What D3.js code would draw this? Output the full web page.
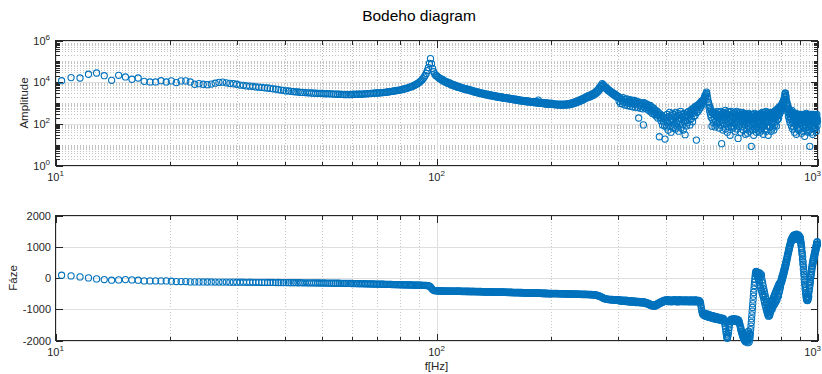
<!DOCTYPE html>
<html>
<head>
<meta charset="utf-8">
<script src="https://cdn.jsdelivr.net/npm/d3@7"></script>
<style>
  html, body { margin: 0; padding: 0; background: #fff; }
  svg { display: block; font-family: "Liberation Sans", Arial, Helvetica, sans-serif; }
</style>
</head>
<body>
<svg id="chart" width="822" height="374"></svg>
<script>
// ---------------------------------------------------------------------------
// Spectrum data. Frequencies are FFT bins (fs = 10 kHz, N = 16384):
// every bin up to 200 Hz, every second bin from 200 Hz to 1 kHz.
// Amplitudes are stored as log10 values, phases in degrees.
// ---------------------------------------------------------------------------
const BIN_HZ = 10000 / 16384;
const bins10to100 = d3.range(17, 164);
const bins100to200 = d3.range(164, 328);
const bins200to1000 = d3.range(328, 1639, 2);

const amp10to100Log = [
  4.07, 4.22, 4.20, 4.38, 4.44, 4.31, 4.09, 4.33, 4.25, 4.14,
  4.20, 4.04, 4.01, 4.01, 4.07, 4.01, 4.06, 3.98, 4.06, 4.06,
  4.01, 3.90, 3.93, 3.90, 3.88, 3.91, 3.95, 3.99, 4.00, 3.97,
  3.94, 3.93, 3.90, 3.86, 3.85, 3.82, 3.81, 3.80, 3.77, 3.76,
  3.75, 3.73, 3.72, 3.70, 3.68, 3.67, 3.64, 3.62, 3.61, 3.58,
  3.58, 3.56, 3.55, 3.53, 3.53, 3.51, 3.51, 3.50, 3.49, 3.49,
  3.48, 3.47, 3.47, 3.46, 3.46, 3.46, 3.45, 3.44, 3.45, 3.44,
  3.44, 3.43, 3.43, 3.42, 3.42, 3.41, 3.41, 3.40, 3.41, 3.40,
  3.41, 3.40, 3.42, 3.41, 3.42, 3.42, 3.43, 3.42, 3.43, 3.44,
  3.44, 3.45, 3.45, 3.46, 3.46, 3.47, 3.47, 3.48, 3.48, 3.49,
  3.49, 3.50, 3.50, 3.51, 3.52, 3.53, 3.54, 3.55, 3.56, 3.57,
  3.58, 3.59, 3.60, 3.61, 3.62, 3.63, 3.65, 3.66, 3.68, 3.69,
  3.71, 3.73, 3.75, 3.77, 3.79, 3.81, 3.84, 3.87, 3.90, 3.93,
  3.97, 4.01, 4.06, 4.11, 4.17, 4.24, 4.32, 4.42, 4.55, 4.70,
  4.90, 5.13, 4.88, 4.66, 4.50, 4.40, 4.32
];

const amp100to200Log = [
  4.31, 4.25, 4.23, 4.16, 4.17, 4.10, 4.13, 4.05, 4.06, 4.00, 4.03, 3.95, 3.99, 3.92, 3.95, 3.87, 3.91, 3.84, 3.88, 3.81,
  3.84, 3.78, 3.81, 3.75, 3.78, 3.73, 3.75, 3.70, 3.73, 3.67, 3.70, 3.65, 3.68, 3.63, 3.66, 3.61, 3.64, 3.59, 3.62, 3.57,
  3.59, 3.54, 3.57, 3.52, 3.55, 3.50, 3.53, 3.48, 3.51, 3.46, 3.49, 3.44, 3.47, 3.43, 3.46, 3.41, 3.44, 3.39, 3.43, 3.38,
  3.41, 3.36, 3.40, 3.35, 3.38, 3.34, 3.37, 3.32, 3.36, 3.31, 3.34, 3.30, 3.33, 3.28, 3.32, 3.27, 3.31, 3.26, 3.30, 3.25,
  3.28, 3.24, 3.27, 3.23, 3.26, 3.22, 3.25, 3.21, 3.24, 3.20, 3.23, 3.19, 3.22, 3.18, 3.21, 3.17, 3.20, 3.16, 3.19, 3.15,
  3.18, 3.14, 3.17, 3.13, 3.16, 3.12, 3.15, 3.11, 3.14, 3.10, 3.13, 3.10, 3.12, 3.09, 3.11, 3.08, 3.11, 3.07, 3.10, 3.06,
  3.10, 3.06, 3.09, 3.05, 3.08, 3.05, 3.07, 3.04, 3.07, 3.03, 3.06, 3.02, 3.06, 3.02, 3.05, 3.01, 3.05, 3.00, 3.04, 3.14,
  3.04, 3.00, 3.03, 2.99, 3.03, 2.98, 3.02, 2.98, 3.01, 2.97, 3.01, 2.96, 3.00, 2.96, 3.00, 2.95, 2.99, 2.95, 2.99, 2.94,
  2.98, 2.94, 2.97, 2.93
];

const amp200to1000Log = [
  2.99, 2.93, 2.97, 2.92, 2.96, 2.91, 2.95, 2.90, 2.95, 2.90, 2.95, 2.89, 2.95, 2.90, 2.95, 2.90, 2.96, 2.91, 2.97, 2.92,
  2.99, 2.94, 3.01, 2.96, 3.04, 2.99, 3.07, 3.02, 3.10, 3.05, 3.14, 3.08, 3.17, 3.12, 3.21, 3.16, 3.25, 3.20, 3.29, 3.24, 3.32,
  3.35, 3.28, 3.38, 3.31, 3.41, 3.35, 3.45, 3.38, 3.50, 3.43, 3.56, 3.49, 3.63, 3.57, 3.72, 3.66, 3.82, 3.78, 3.93, 3.88,
  3.84, 3.76, 3.78, 3.70, 3.72, 3.64, 3.66, 3.58, 3.61, 3.53, 3.56, 3.47, 3.51, 3.42, 3.46, 3.37, 3.42, 3.33, 3.38, 3.28, 3.32,
  3.30, 3.08, 3.24, 2.98, 3.20, 3.12, 2.95, 3.26, 3.05, 3.18, 2.90, 3.15, 3.02, 3.20, 2.88, 3.10, 2.98, 3.16, 2.85, 3.08,
  3.00, 3.14, 2.82, 3.05, 2.95, 3.12, 2.80, 3.02, 2.92, 3.08, 2.78, 2.98, 2.28, 3.04, 2.88, 2.75, 3.00, 2.85, 2.96, 2.72, 1.95,
  3.02, 2.80, 2.98, 2.88, 2.72, 2.95, 2.78, 2.90, 2.65, 2.85, 2.70, 2.88, 2.58, 2.80, 2.66, 2.50, 2.78, 2.60, 2.72, 2.45,
  2.65, 2.52, 2.38, 2.62, 2.45, 2.28, 2.55, 2.40, 1.38, 2.48, 2.30, 2.15, 2.42, 2.25, 1.95, 2.35, 2.10, 2.28, 1.90, 1.27, 2.20,
  2.30, 1.85, 2.45, 2.05, 1.70, 2.35, 2.15, 2.55, 1.90, 2.25, 1.60, 2.40, 2.10, 2.50, 1.80, 2.20, 2.45, 1.95, 2.30, 1.75,
  2.55, 2.05, 2.35, 1.85, 2.15, 2.50, 1.65, 2.25, 2.40, 2.00, 2.60, 1.80, 2.20, 2.45, 1.95, 2.35, 1.70, 2.50, 2.10, 2.30, 1.48,
  2.15, 2.45, 1.90, 2.35, 2.55, 2.05, 2.40, 2.60, 2.20, 2.50, 1.95, 2.45, 2.65, 2.25, 2.55, 2.70, 2.10, 2.50, 2.75, 2.35,
  2.60, 2.80, 2.40, 2.70, 2.85, 1.22, 2.55, 2.80, 2.90, 2.60, 2.85, 2.95, 2.70, 2.90, 3.00, 2.80, 2.98, 3.08, 2.90, 3.10, 3.05,
  3.08, 3.14, 3.20, 3.16, 3.30, 3.25, 3.38, 3.33, 3.46, 3.52, 3.42, 3.28, 3.20, 3.05, 3.02, 2.80, 2.90, 2.60, 2.78, 2.45,
  2.68, 2.30, 2.60, 1.89, 2.55, 2.20, 2.50, 2.05, 2.45, 2.25, 2.55, 1.85, 2.40, 2.15, 2.50, 1.95, 2.35, 2.60, 2.05, 2.30, 2.45,
  2.35, 1.80, 2.55, 2.10, 2.40, 1.95, 2.60, 2.20, 1.05, 2.45, 2.05, 2.50, 1.70, 2.30, 2.55, 1.90, 2.40, 2.15, 2.65, 1.75,
  2.35, 2.50, 2.00, 2.25, 1.60, 2.45, 2.10, 2.60, 1.85, 2.30, 2.55, 2.05, 1.45, 2.40, 2.20, 2.60, 1.90, 2.35, 2.05, 2.50, 1.80,
  2.25, 2.50, 1.85, 2.35, 2.05, 2.55, 1.65, 2.30, 2.45, 1.95, 2.20, 2.60, 1.75, 2.40, 2.10, 1.30, 2.50, 2.25, 1.90, 2.35,
  2.55, 2.00, 2.30, 1.60, 2.45, 2.15, 2.40, 1.85, 2.55, 2.05, 2.30, 1.70, 2.45, 2.20, 2.50, 1.95, 2.35, 2.10, 1.50, 2.40, 2.20,
  2.30, 1.75, 2.45, 2.05, 1.55, 2.35, 2.15, 2.50, 1.85, 2.25, 1.65, 2.40, 2.00, 2.30, 1.80, 2.45, 0.92, 2.20, 2.35, 1.70,
  2.10, 2.45, 1.90, 2.25, 1.45, 2.35, 2.05, 2.50, 1.75, 2.20, 2.40, 1.95, 2.30, 1.60, 2.15, 2.45, 1.85, 2.30, 2.05, 2.40, 1.70,
  2.35, 1.80, 2.20, 2.45, 1.60, 2.30, 2.05, 2.50, 1.90, 2.25, 1.70, 2.40, 2.15, 2.55, 1.85, 2.30, 1.50, 2.45, 2.10, 2.35,
  1.95, 2.55, 1.75, 2.25, 2.40, 2.05, 2.60, 1.65, 2.30, 2.15, 2.50, 1.90, 2.35, 2.20, 1.45, 2.45, 2.10, 2.55, 1.85, 2.30, 2.40,
  2.40, 1.85, 2.30, 2.50, 1.65, 2.25, 2.45, 2.00, 2.55, 1.80, 2.35, 2.55, 2.05, 2.40, 1.70, 2.50, 2.25, 2.60, 1.95, 2.45,
  2.30, 2.65, 2.10, 2.50, 1.90, 2.60, 2.35, 2.70, 2.20, 2.55, 2.40, 2.75, 2.25, 2.65, 2.50, 2.80, 2.45, 2.70, 2.60, 2.85, 2.75,
  2.65, 2.85, 2.60, 2.90, 2.75, 2.95, 2.80, 3.00, 2.90, 3.05, 2.95, 3.10, 3.05, 3.18, 3.15, 3.28, 3.30, 3.40, 3.48, 3.45,
  3.35, 3.30, 3.18, 3.10, 3.00, 2.90, 3.00, 2.70, 2.85, 2.55, 2.80, 2.35, 2.70, 2.50, 2.65, 2.20, 2.60, 2.45, 2.05, 2.55, 2.35,
  2.60, 2.25, 2.50, 1.90, 2.45, 2.65, 2.10, 2.40, 1.75, 2.55, 2.20, 2.40, 1.85, 2.50, 2.15, 2.35, 1.60, 2.45, 2.25, 2.05,
  2.40, 1.95, 2.30, 2.50, 1.50, 2.25, 2.40, 2.00, 2.35, 1.80, 2.45, 2.15, 2.30, 1.70, 2.40, 2.20, 2.05, 2.45, 1.90, 2.30, 2.15,
  2.05, 2.40, 1.75, 2.30, 2.15, 2.45, 1.55, 2.25, 2.05, 2.35, 1.90, 2.40, 2.20, 1.65, 2.30, 2.10, 2.45, 1.85, 2.25, 2.35,
  1.40, 2.20, 2.05, 2.40, 1.80, 2.30, 2.15, 2.50, 1.95, 2.25, 2.40, 1.70, 2.35, 2.10, 2.45, 1.60, 2.20, 2.35, 2.00, 2.45, 1.85,
  2.35, 1.70, 2.25, 0.92, 2.45, 1.95, 2.30, 2.10, 2.40, 1.60, 2.20, 2.35, 1.85, 2.45, 2.10, 2.30, 1.50, 2.25, 2.40, 1.95,
  2.20, 2.45, 1.75, 2.35, 2.10, 2.30, 1.90, 2.40, 2.15, 2.05, 2.35, 1.80, 2.25, 2.40, 1.65, 2.30, 2.10, 2.45, 1.90, 2.25, 2.10
];

const phase10to100 = [
  90, 67, 35, 3, -29, -50, -71, -61, -51, -61,
  -71, -93, -93, -93, -93, -93, -103, -114, -114, -114,
  -125, -125, -125, -126, -128, -127, -130, -129, -131, -130,
  -133, -132, -134, -135, -134, -137, -136, -138, -139, -138,
  -141, -140, -142, -143, -142, -145, -144, -146, -147, -146,
  -149, -148, -150, -151, -152, -151, -154, -153, -155, -156,
  -155, -158, -157, -159, -160, -161, -160, -163, -162, -164,
  -165, -164, -167, -168, -167, -170, -171, -170, -173, -174,
  -173, -176, -177, -178, -179, -180, -181, -182, -183, -184,
  -186, -187, -188, -189, -190, -192, -193, -194, -195, -197,
  -198, -199, -200, -201, -203, -204, -205, -206, -208, -209,
  -210, -211, -212, -213, -214, -215, -216, -217, -218, -219,
  -220, -221, -222, -223, -224, -225, -226, -227, -228, -229,
  -230, -231, -232, -233, -234, -236, -238, -240, -243, -248,
  -258, -285, -330, -370, -395, -405, -409
];

const phase100to200 = [
  -402, -418, -405, -420, -407, -421, -409, -423, -410, -424, -412, -425, -413, -427, -414, -428, -416, -429, -417, -430,
  -412, -428, -414, -430, -415, -431, -417, -432, -418, -433, -419, -435, -421, -436, -422, -437, -423, -439, -425, -440,
  -424, -438, -426, -440, -427, -441, -429, -443, -430, -444, -431, -446, -433, -447, -434, -448, -436, -450, -437, -451,
  -435, -449, -437, -451, -438, -452, -440, -454, -441, -455, -442, -457, -444, -458, -445, -459, -447, -461, -448, -462,
  -446, -460, -447, -461, -449, -463, -450, -464, -451, -466, -453, -467, -454, -468, -456, -470, -457, -471, -458, -472,
  -457, -471, -458, -472, -460, -474, -461, -475, -462, -477, -464, -478, -465, -479, -467, -481, -468, -482, -469, -483,
  -468, -482, -469, -483, -471, -485, -472, -486, -473, -488, -475, -489, -476, -490, -478, -492, -479, -493, -480, -494,
  -479, -493, -480, -494, -482, -496, -483, -497, -484, -498, -486, -500, -487, -501, -488, -502, -490, -503, -491, -505,
  -492, -505, -493, -506
];

const phase200to1000 = [
  -490, -504, -492, -506, -494, -507, -495, -509, -497, -510, -498, -512, -500, -513, -501, -515, -503, -516, -504, -518,
  -506, -519, -507, -521, -509, -522, -510, -524, -512, -525, -513, -527, -515, -528, -516, -530, -518, -531, -519, -533, -521,
  -522, -536, -525, -539, -528, -542, -531, -546, -536, -550, -544, -560, -556, -572, -573, -590, -595, -612, -620, -636,
  -644, -660, -660, -674, -670, -684, -678, -692, -682, -697, -686, -702, -688, -705, -690, -708, -692, -710, -694, -712, -696,
  -690, -725, -705, -740, -698, -732, -715, -750, -708, -742, -720, -755, -712, -748, -730, -765, -722, -758, -738, -772,
  -728, -762, -745, -778, -735, -770, -752, -785, -742, -776, -758, -790, -748, -782, -765, -795, -755, -788, -770, -800, -765,
  -765, -800, -775, -812, -790, -825, -800, -838, -815, -850, -830, -868, -845, -880, -858, -895, -865, -905, -870, -900,
  -860, -890, -845, -872, -828, -855, -808, -835, -790, -815, -770, -798, -752, -782, -738, -765, -722, -752, -710, -745, -718,
  -700, -740, -712, -752, -695, -735, -718, -758, -705, -745, -725, -762, -698, -738, -715, -755, -708, -748, -690, -732,
  -720, -760, -702, -742, -728, -765, -710, -750, -695, -738, -722, -758, -705, -745, -715, -755, -700, -740, -725, -762, -712,
  -705, -745, -718, -758, -698, -738, -725, -762, -710, -750, -722, -760, -700, -742, -715, -755, -708, -748, -728, -765,
  -712, -752, -698, -740, -720, -758, -705, -745, -730, -768, -715, -755, -725, -770, -760, -810, -880, -960, -1040, -1100, -1140,
  -1170, -1120, -1195, -1145, -1210, -1160, -1135, -1220, -1175, -1150, -1235, -1185, -1160, -1245, -1200, -1175, -1260, -1210, -1185, -1270,
  -1220, -1195, -1280, -1230, -1205, -1290, -1240, -1215, -1300, -1250, -1225, -1310, -1260, -1235, -1320, -1270, -1245, -1330, -1280, -1255, -1320,
  -1290, -1335, -1275, -1320, -1350, -1295, -1340, -1280, -1325, -1360, -1305, -1345, -1290, -1365, -1320, -1380, -1400, -1460, -1540, -1620,
  -1710, -1790, -1860, -1910, -1930, -1880, -1820, -1750, -1660, -1580, -1500, -1440, -1390, -1360, -1330, -1375, -1320, -1365, -1340, -1385, -1330,
  -1345, -1300, -1370, -1330, -1385, -1350, -1310, -1375, -1340, -1395, -1355, -1320, -1390, -1360, -1405, -1370, -1340, -1415, -1380, -1430,
  -1470, -1520, -1580, -1650, -1610, -1700, -1760, -1720, -1800, -1860, -1780, -1900, -1840, -1960, -1870, -2000, -1920, -1820, -2040, -1900, -1980,
  -1850, -2020, -1760, -1950, -2070, -1820, -1980, -1700, -1920, -2050, -1800, -1960, -1880, -1780, -1650, -1540, -1420, -1300, -1180, -1060,
  -940, -820, -700, -580, -460, -350, -240, -130, -30, 60, 130, 190, 210, 160, 200, 110, 180, 60, 150, -20, 120,
  90, -80, 170, -150, 60, -230, 140, -300, 20, -380, 100, -420, -60, -500, -150, -560, -250, -620, -350, -700,
  -430, -780, -520, -860, -600, -930, -680, -1000, -760, -1060, -840, -1120, -920, -1180, -980, -1220, -1040, -1160, -1100, -1210, -1050,
  -1150, -900, -1080, -840, -1020, -780, -960, -720, -1000, -760, -900, -680, -840, -620, -880, -600, -780, -540, -820, -500,
  -720, -460, -760, -420, -660, -380, -700, -340, -600, -300, -540, -260, -580, -220, -480, -180, -420, -240, -350, -150, -280,
  -200, -80, -160, -20, -120, 40, -60, 90, -10, 150, 60, 210, 120, 270, 180, 330, 250, 390, 310, 450,
  380, 520, 450, 590, 520, 650, 600, 720, 680, 790, 760, 860, 830, 930, 900, 990, 960, 1050, 1030, 1110, 1100,
  1160, 1210, 1150, 1240, 1190, 1270, 1220, 1300, 1240, 1330, 1260, 1350, 1280, 1370, 1240, 1340, 1290, 1380, 1250, 1360,
  1300, 1390, 1270, 1350, 1310, 1400, 1260, 1340, 1300, 1380, 1240, 1330, 1280, 1370, 1230, 1320, 1270, 1350, 1220, 1300, 1250,
  1200, 1280, 1120, 1180, 1020, 1080, 900, 960, 760, 820, 600, 680, 440, 520, 280, 360, 120, 200, -40, 40,
  -200, -120, -350, -270, -480, -400, -590, -520, -660, -600, -710, -640, -680, -720, -620, -700, -580, -650, -520, -600, -450,
  -380, -250, -320, -150, -220, -40, -110, 80, 20, 190, 120, 290, 220, 380, 310, 460, 390, 530, 460, 600,
  520, 660, 580, 720, 640, 780, 700, 840, 760, 900, 820, 960, 880, 1020, 930, 1080, 990, 1140, 1040, 1160, 1080
];

// Axis ticks
const xMajorTicks = [10, 100, 1000];
const xMinorTicks = [20, 30, 40, 50, 60, 70, 80, 90, 200, 300, 400, 500, 600, 700, 800, 900];
const ampMajorTicks = [1, 1e2, 1e4, 1e6];
const ampMinorTicks = [0, 1, 2, 3, 4, 5].flatMap(d =>
  [1, 2, 3, 4, 5, 6, 7, 8, 9].map(k => k * Math.pow(10, d))).filter(v => !ampMajorTicks.includes(v));
const phaseTicks = [-2000, -1000, 0, 1000, 2000];

// ---------------------------------------------------------------------------
const freqHz = bins10to100.concat(bins100to200, bins200to1000).map(b => b * BIN_HZ);
const amplitude = amp10to100Log.concat(amp100to200Log, amp200to1000Log).map(v => Math.pow(10, v));
const phaseDeg = phase10to100.concat(phase100to200, phase200to1000);
const nPts = Math.min(freqHz.length, amplitude.length, phaseDeg.length);
const points = d3.range(nPts).map(i => ({ f: freqHz[i], a: amplitude[i], p: phaseDeg[i] }));

const INK = '#262626';
const MAJOR_GRID = '#dfdfdf';
const MINOR_GRID = '#c4c4c4';
const MARKER = '#0072bd';
const MARKER_R = 3.1;
const MARKER_W = 1.1;

const W = 822;
const X0 = 55.5, X1 = 817.5;
const x = d3.scaleLog().domain([10, 1000]).range([X0, X1]);
const yAmp = d3.scaleLog().domain([1, 1e6]).range([165.5, 40.5]);
const yPh = d3.scaleLinear().domain([-2000, 2000]).range([340.5, 215.5]);

const svg = d3.select('#chart');
svg.append('rect').attr('width', W).attr('height', 374).attr('fill', '#fff');

function exponentLabel(g, px, py, v, anchor) {
  const t = g.append('text').attr('x', px).attr('y', py)
    .attr('text-anchor', anchor).attr('font-size', 11).attr('fill', INK);
  t.append('tspan').text('10');
  t.append('tspan').attr('font-size', 8).attr('dy', -5).text(String(Math.round(Math.log10(v))));
  return t;
}

function drawPanel(y, majorY, minorY, yLabel) {
  const [yb, yt] = y.range();
  const g = svg.append('g');

  // grid
  const grid = g.append('g').attr('shape-rendering', 'crispEdges');
  grid.selectAll('.vminor').data(xMinorTicks).join('line')
    .attr('x1', d => Math.round(x(d)) + 0.5).attr('x2', d => Math.round(x(d)) + 0.5)
    .attr('y1', yt).attr('y2', yb)
    .attr('stroke', MINOR_GRID).attr('stroke-dasharray', '1,2');
  grid.selectAll('.hminor').data(minorY).join('line')
    .attr('x1', X0).attr('x2', X1)
    .attr('y1', d => Math.round(y(d)) + 0.5).attr('y2', d => Math.round(y(d)) + 0.5)
    .attr('stroke', MINOR_GRID).attr('stroke-dasharray', '1,2');
  grid.selectAll('.vmajor').data(xMajorTicks).join('line')
    .attr('x1', d => Math.round(x(d)) + 0.5).attr('x2', d => Math.round(x(d)) + 0.5)
    .attr('y1', yt).attr('y2', yb).attr('stroke', MAJOR_GRID);
  grid.selectAll('.hmajor').data(majorY).join('line')
    .attr('x1', X0).attr('x2', X1)
    .attr('y1', d => Math.round(y(d)) + 0.5).attr('y2', d => Math.round(y(d)) + 0.5)
    .attr('stroke', MAJOR_GRID);

  // box and inward ticks
  const ax = g.append('g').attr('stroke', INK).attr('shape-rendering', 'crispEdges');
  ax.append('rect').attr('x', X0).attr('y', yt).attr('width', X1 - X0).attr('height', yb - yt)
    .attr('fill', 'none');
  const xt = xMajorTicks.map(v => ({ v, len: 7 })).concat(xMinorTicks.map(v => ({ v, len: 4 })));
  xt.forEach(t => {
    const px = Math.round(x(t.v)) + 0.5;
    ax.append('line').attr('x1', px).attr('x2', px).attr('y1', yb).attr('y2', yb - t.len);
    ax.append('line').attr('x1', px).attr('x2', px).attr('y1', yt).attr('y2', yt + t.len);
  });
  const yTicks = majorY.map(v => ({ v, len: 7 })).concat(minorY.map(v => ({ v, len: 4 })));
  yTicks.forEach(t => {
    const py = Math.round(y(t.v)) + 0.5;
    ax.append('line').attr('x1', X0).attr('x2', X0 + t.len).attr('y1', py).attr('y2', py);
    ax.append('line').attr('x1', X1).attr('x2', X1 - t.len).attr('y1', py).attr('y2', py);
  });

  // x tick labels (10^n); the last one is kept inside the page edge
  xMajorTicks.forEach((v, i) => {
    const last = i === xMajorTicks.length - 1;
    exponentLabel(g, last ? W - 1 : x(v), yb + 15, v, last ? 'end' : 'middle');
  });

  // y axis title
  g.append('text').attr('transform', `translate(${yLabel.x},${(yt + yb) / 2}) rotate(-90)`)
    .attr('text-anchor', 'middle').attr('font-size', 11.5).attr('fill', INK).text(yLabel.text);
  return g;
}

function drawMarkers(g, yOf) {
  g.append('g').selectAll('circle').data(points).join('circle')
    .attr('cx', d => x(d.f)).attr('cy', yOf).attr('r', MARKER_R)
    .attr('fill', 'none').attr('stroke', MARKER).attr('stroke-width', MARKER_W);
}

// Amplitude panel
const gAmp = drawPanel(yAmp, ampMajorTicks, ampMinorTicks, { x: 28, text: 'Amplitude' });
ampMajorTicks.forEach(v => exponentLabel(gAmp, 50, yAmp(v) + 4, v, 'end'));
drawMarkers(gAmp, d => yAmp(d.a));

// Phase panel
const gPh = drawPanel(yPh, phaseTicks, [], { x: 17, text: 'Fáze' });
phaseTicks.forEach(v => {
  gPh.append('text').attr('x', 51).attr('y', yPh(v) + 4)
    .attr('text-anchor', 'end').attr('font-size', 11).attr('fill', INK).text(String(v));
});
drawMarkers(gPh, d => yPh(d.p));

// Titles
svg.append('text').attr('x', 419).attr('y', 21).attr('text-anchor', 'middle')
  .attr('font-size', 15.5).attr('fill', '#000').text('Bodeho diagram');
svg.append('text').attr('x', (X0 + X1) / 2).attr('y', 370).attr('text-anchor', 'middle')
  .attr('font-size', 11.5).attr('fill', INK).text('f[Hz]');
</script>
</body>
</html>
